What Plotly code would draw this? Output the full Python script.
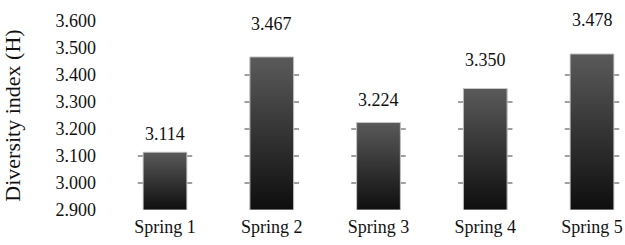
import plotly.graph_objects as go

categories = ["Spring 1", "Spring 2", "Spring 3", "Spring 4", "Spring 5"]
values = [3.114, 3.467, 3.224, 3.350, 3.478]
y_ticks = [2.9, 3.0, 3.1, 3.2, 3.3, 3.4, 3.5, 3.6]
Y_MIN, Y_MAX = 2.9, 3.6
BAR_W = 0.41
MARK_EXT = 0.05          # faint grid marks peeking out beside the bars
LABEL_GAIN, LABEL_LIFT = 1.159, 0.0334  # placement of value labels above bars

FONT = "Liberation Serif"
W, H = 625, 245
M_L, M_R, M_T, M_B = 105, 0, 21, 35
px_per_unit = (H - M_T - M_B) / (Y_MAX - Y_MIN)
mark_thick = 1.3 / px_per_unit

fig = go.Figure()

# faint grid marks (thin wide bars; only their ends show beside the bars)
mx, mb = [], []
for i, v in enumerate(values):
    for t in y_ticks:
        if Y_MIN < t < v:
            mx.append(i)
            mb.append(t - mark_thick / 2)
fig.add_trace(go.Bar(x=mx, y=[mark_thick] * len(mx), base=mb,
                     width=BAR_W + 2 * MARK_EXT,
                     marker=dict(color="#a0a0a0", line=dict(width=0)),
                     hoverinfo="skip", showlegend=False))

# base bar trace (data carrier)
fig.add_trace(go.Bar(
    x=list(range(len(categories))), y=[v - Y_MIN for v in values], base=Y_MIN,
    width=BAR_W, marker=dict(color="#2a2a2a", line=dict(width=0)),
    hoverinfo="skip", showlegend=False))

# gradient overlay per bar
for i, v in enumerate(values):
    xs = [i - BAR_W / 2, i + BAR_W / 2, i + BAR_W / 2, i - BAR_W / 2, i - BAR_W / 2]
    ys = [Y_MIN, Y_MIN, v, v, Y_MIN]
    fig.add_trace(go.Scatter(
        x=xs, y=ys, mode="lines", fill="toself",
        line=dict(color="#c8c8c8", width=1),
        fillgradient=dict(type="vertical",
                          colorscale=[[0, "#0e0e0e"], [1, "#5a5a5a"]]),
        hoverinfo="skip", showlegend=False))

# value labels (anchored at bar tops, shifted up in pixels)
for i, v in enumerate(values):
    shift = ((LABEL_GAIN - 1) * (v - Y_MIN) + LABEL_LIFT) * px_per_unit
    fig.add_annotation(x=i, y=v, yshift=shift, text=f"{v:.3f}",
                       showarrow=False, yanchor="middle",
                       font=dict(family=FONT, size=18, color="#111"))

fig.update_layout(
    width=W, height=H, barmode="overlay",
    margin=dict(l=M_L, r=M_R, t=M_T, b=M_B, autoexpand=False),
    paper_bgcolor="white", plot_bgcolor="white",
    font=dict(family=FONT, size=18, color="#111"),
    xaxis=dict(range=[-0.562, 4.309], tickvals=list(range(len(categories))),
               ticktext=categories, showgrid=False, zeroline=False,
               showline=False, ticks="", ticklabelstandoff=4, automargin=False,
               tickfont=dict(family=FONT, size=18)),
    yaxis=dict(range=[Y_MIN, Y_MAX], tickvals=y_ticks, tickformat=".3f",
               showgrid=False, zeroline=False, showline=False, ticks="",
               ticklabelstandoff=8, automargin=False,
               tickfont=dict(family=FONT, size=18),
               title=dict(text="Diversity index (H)", standoff=33,
                          font=dict(family=FONT, size=22))),
)

fig.write_html("out.html", config={"displayModeBar": False},
               post_script="document.body.style.margin='0';document.body.style.overflow='hidden';")
